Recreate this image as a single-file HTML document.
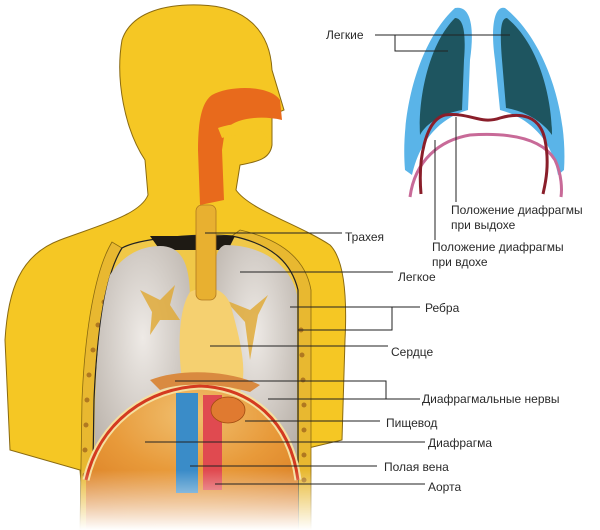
<!DOCTYPE html>
<html><head><meta charset="utf-8"><style>
html,body{margin:0;padding:0;background:#fff}
svg{display:block}
text{font-family:"Liberation Sans",sans-serif;font-size:12px;fill:#2a2a2a}
</style></head><body>
<svg width="600" height="530" viewBox="0 0 600 530" xmlns="http://www.w3.org/2000/svg">
<defs>
<linearGradient id="fade" x1="0" y1="0" x2="0" y2="1">
<stop offset="0" stop-color="#fff" stop-opacity="0"/><stop offset="1" stop-color="#fff" stop-opacity="1"/>
</linearGradient>
<radialGradient id="lung" cx="0.5" cy="0.4" r="0.7">
<stop offset="0" stop-color="#eeeae6"/><stop offset="1" stop-color="#b8b0a8"/>
</radialGradient>
<radialGradient id="dome" cx="0.5" cy="0.2" r="0.8">
<stop offset="0" stop-color="#f0c070"/><stop offset="0.5" stop-color="#e89a3a"/><stop offset="1" stop-color="#d97a20"/>
</radialGradient>
</defs>
<!-- body -->
<path d="M122,40 C132,10 170,4 200,5 C245,6 270,30 272,70 L284,110 L272,115 L272,145 C270,160 255,162 240,165 L236,190 C250,210 300,225 330,245 C345,260 347,300 345,340 L342,440 L300,450 L300,530 L85,530 L80,470 L10,450 L5,340 C8,290 20,255 60,240 C100,225 140,215 148,195 L145,160 C125,130 115,80 122,40 Z" fill="#f5c724" stroke="#8a6a10" stroke-width="1"/>
<!-- rib strips -->
<path d="M112,242 C95,270 85,330 82,400 L80,530 L92,530 L94,400 C97,330 105,275 122,248 Z" fill="#e8b830" stroke="#8a6a10" stroke-width="0.8"/>
<path d="M232,236 C265,245 292,265 298,290 L298,530 L311,530 L311,290 C305,255 275,238 240,230 Z" fill="#e8b830" stroke="#8a6a10" stroke-width="0.8"/>
<g fill="#b07820">
<circle cx="119" cy="262" r="2.5"/><circle cx="111" cy="282" r="2.5"/><circle cx="104" cy="302" r="2.5"/><circle cx="98" cy="325" r="2.5"/><circle cx="93" cy="350" r="2.5"/><circle cx="89" cy="375" r="2.5"/><circle cx="87" cy="400" r="2.5"/><circle cx="86" cy="425" r="2.5"/><circle cx="85" cy="450" r="2.5"/><circle cx="85" cy="475" r="2.5"/>
<circle cx="262" cy="253" r="2.5"/><circle cx="278" cy="263" r="2.5"/><circle cx="289" cy="282" r="2.5"/><circle cx="295" cy="305" r="2.5"/><circle cx="301" cy="330" r="2.5"/><circle cx="302" cy="355" r="2.5"/><circle cx="303" cy="380" r="2.5"/><circle cx="304" cy="405" r="2.5"/><circle cx="304" cy="430" r="2.5"/><circle cx="304" cy="455" r="2.5"/><circle cx="304" cy="480" r="2.5"/>
</g>
<!-- cavity -->
<path d="M122,248 C140,238 200,233 232,236 C275,245 292,265 298,290 L298,530 L92,530 L94,400 C97,330 105,275 122,248 Z" fill="#f0c848" stroke="#222" stroke-width="1.2"/>
<path d="M150,236 L235,236 L228,250 L160,250 Z" fill="#1e1a14"/>
<!-- lungs -->
<path d="M160,246 C185,246 190,270 190,300 C195,340 185,390 170,420 L95,475 C93,400 97,320 110,275 C125,252 145,246 160,246 Z" fill="url(#lung)"/>
<path d="M225,245 C265,245 292,268 297,295 L297,465 L240,410 C220,380 210,330 213,290 C214,265 215,248 225,245 Z" fill="url(#lung)"/>
<path d="M140,290 L160,300 L175,285 L170,305 L180,320 L160,320 L150,335 L152,312 Z" fill="#e0a830" opacity="0.8"/>
<path d="M225,300 L250,310 L268,295 L258,315 L250,360 L245,322 Z" fill="#e0a830" opacity="0.8"/>
<!-- heart -->
<path d="M190,292 C210,282 228,290 232,310 C240,340 248,370 240,392 C220,400 195,395 182,380 C178,350 178,310 190,292 Z" fill="#f5d070"/>
<!-- trachea -->
<rect x="196" y="205" width="20" height="95" rx="6" fill="#e8b030" stroke="#b07820" stroke-width="0.8"/>
<!-- pharynx and nasal -->
<path d="M212,95 C230,85 270,85 280,100 L282,120 C260,115 235,118 225,130 L222,150 L224,200 L200,205 L198,150 C198,120 202,102 212,95 Z" fill="#e86a1c"/>
<path d="M218,128 C240,120 260,125 268,140 L260,145 C250,135 235,133 222,138 Z" fill="#f5c724"/>
<!-- diaphragm dome -->
<path d="M86,480 C100,420 150,388 200,386 C250,388 290,420 298,480 L298,530 L86,530 Z" fill="url(#dome)"/>
<path d="M86,480 C100,420 150,388 200,386 C250,388 290,420 298,480" fill="none" stroke="#f5e0a0" stroke-width="7"/>
<path d="M86,480 C100,420 150,388 200,386 C250,388 290,420 298,480" fill="none" stroke="#d43a20" stroke-width="3"/>
<path d="M150,380 C180,368 230,370 260,385 L250,392 C220,383 180,382 160,390 Z" fill="#d98a40"/>
<rect x="176" y="393" width="22" height="100" fill="#3a8cc8"/>
<rect x="203" y="395" width="19" height="95" fill="#e04a50"/>
<ellipse cx="228" cy="410" rx="17" ry="13" fill="#e07a30" stroke="#a04a10" stroke-width="0.8"/>
<!-- fades -->
<rect x="0" y="470" width="600" height="60" fill="url(#fade)"/>
<!-- right diagram lungs -->
<path d="M455,8 C470,5 475,25 470,60 L468,110 C440,118 420,140 412,175 L405,170 C400,110 420,40 455,8 Z" fill="#5ab4e8"/>
<path d="M455,18 C464,18 466,35 464,60 L462,110 C440,114 425,125 420,135 C418,100 428,45 455,18 Z" fill="#1e5560"/>
<path d="M505,8 C495,5 490,25 495,60 L500,110 C530,118 552,140 558,175 L564,170 C568,110 545,40 505,8 Z" fill="#5ab4e8"/>
<path d="M507,18 C500,18 500,35 502,60 L506,108 C530,112 545,125 552,135 C552,100 540,45 507,18 Z" fill="#1e5560"/>
<path d="M410,197 C415,160 440,140 470,135 C500,133 540,135 555,160 C562,175 562,190 561,197" fill="none" stroke="#c86a98" stroke-width="3"/>
<path d="M421,194 C418,160 425,120 445,115 C470,112 480,125 500,118 C520,112 540,115 545,140 C550,165 545,185 543,194" fill="none" stroke="#8a1e2a" stroke-width="3"/>
<!-- leaders -->
<g stroke="#222" stroke-width="1" fill="none">
<path d="M375,35 L510,35 M395,35 L395,51 L448,51"/>
<path d="M456,117 L456,202 M435,140 L435,240"/>
<path d="M205,233 L342,233"/>
<path d="M240,272 L393,272"/>
<path d="M290,307 L420,307 M298,330 L392,330 L392,307"/>
<path d="M210,346 L388,346"/>
<path d="M175,381 L386,381 L386,399 M268,399 L420,399"/>
<path d="M245,421 L380,421"/>
<path d="M145,442 L425,442"/>
<path d="M190,466 L377,466"/>
<path d="M215,484 L425,484"/>
</g>
<text x="326" y="39">Легкие</text>
<text x="451" y="214">Положение диафрагмы</text>
<text x="451" y="229">при выдохе</text>
<text x="432" y="251">Положение диафрагмы</text>
<text x="432" y="266">при вдохе</text>
<text x="345" y="241">Трахея</text>
<text x="398" y="281">Легкое</text>
<text x="425" y="312">Ребра</text>
<text x="391" y="356">Сердце</text>
<text x="422" y="403">Диафрагмальные нервы</text>
<text x="386" y="427">Пищевод</text>
<text x="428" y="447">Диафрагма</text>
<text x="384" y="471">Полая вена</text>
<text x="428" y="491">Аорта</text>
</svg>
</body></html>
